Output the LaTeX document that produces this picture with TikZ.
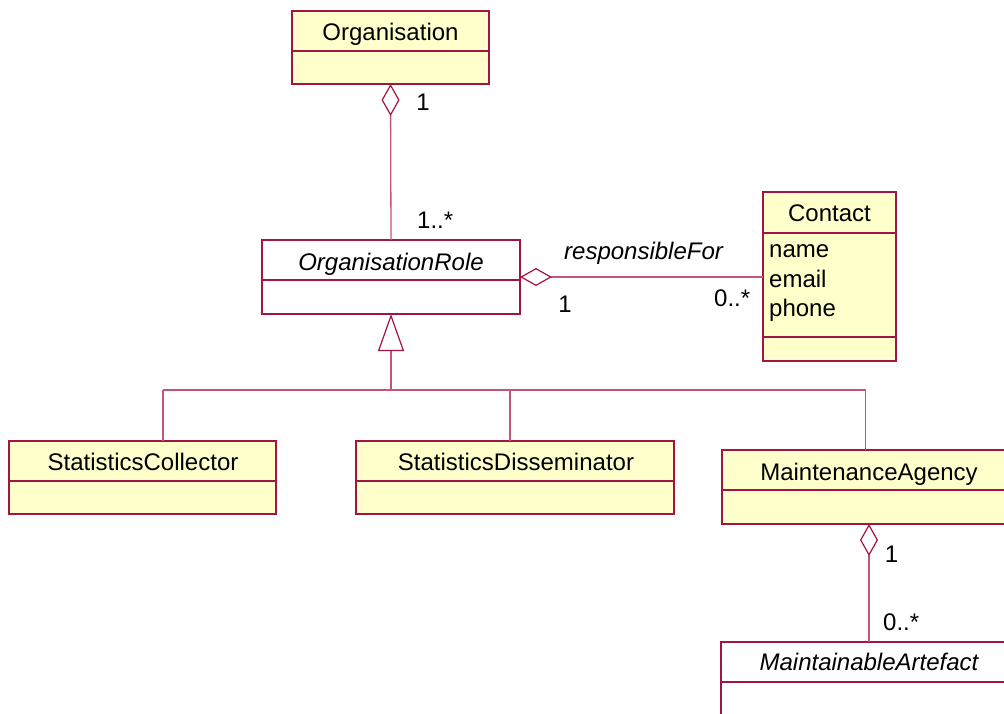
\documentclass[tikz,border=0pt]{standalone}
\usepackage{fontspec}
\setmainfont{Liberation Sans}
\usetikzlibrary{arrows.meta}
\definecolor{umlborder}{RGB}{163,20,66}
\definecolor{umlline}{RGB}{196,84,124}
\definecolor{umlfill}{RGB}{255,255,204}
\tikzset{
  aggtip/.tip={Diamond[open, length=32pt, width=18pt, color=umlborder, line width=1.2pt]},
  gentip/.tip={Triangle[open, length=37pt, width=26pt, color=umlborder, line width=1.2pt]}
}
\begin{document}
\begin{tikzpicture}[x=1pt,y=-1pt,
  classbox/.style={draw=umlborder, line width=1.5pt, fill=umlfill, rectangle,
    inner sep=0pt, outer sep=0pt, anchor=north west},
  abstractbox/.style={classbox, fill=white},
  divider/.style={draw=umlborder, line width=1.2pt},
  conn/.style={draw=umlline, line width=1.3pt},
  txt/.style={font=\fontsize{24}{28}\selectfont, inner sep=0pt, anchor=base},
  itxt/.style={txt, font=\fontsize{24}{28}\selectfont\itshape}
]
\useasboundingbox (0,0) rectangle (1004,713);
\clip (0,0) rectangle (1004,713);
\fill[white] (0,0) rectangle (1004,713);

% class boxes
\node[classbox, minimum width=197pt, minimum height=73pt] (org) at (292,11) {};
\node[abstractbox, minimum width=258pt, minimum height=74pt] (role) at (262,240) {};
\node[classbox, minimum width=133pt, minimum height=169pt] (contact) at (763,192) {};
\node[classbox, minimum width=267pt, minimum height=73pt] (coll) at (9,441) {};
\node[classbox, minimum width=318pt, minimum height=73pt] (diss) at (356,441) {};
\node[classbox, minimum width=294pt, minimum height=74pt] (maint) at (722,450) {};
\node[abstractbox, minimum width=296pt, minimum height=100pt] (art) at (721,642) {};

% compartment dividers
\foreach \b in {org, role, coll, diss, maint, art}
  \draw[divider] ([yshift=-40pt]\b.north west) -- ([yshift=-40pt]\b.north east);
\draw[divider] ([yshift=-41pt]contact.north west) -- ([yshift=-41pt]contact.north east);
\draw[divider] ([yshift=-145pt]contact.north west) -- ([yshift=-145pt]contact.north east);

% class names
\node[txt] (orgname) at (390.5,40) {Organisation};
\node[itxt] (rolename) at (391,270) {OrganisationRole};
\node[txt] (contactname) at (829.5,221) {Contact};
\node[txt] (collname) at (143,470) {StatisticsCollector};
\node[txt] (dissname) at (516,470) {StatisticsDisseminator};
\node[txt] (maintname) at (869,480) {MaintenanceAgency};
\node[itxt] (artname) at (869,670) {MaintainableArtefact};

% attributes of Contact
\node[txt, anchor=base west] (attrname) at (769,257) {name};
\node[txt, anchor=base west] (attremail) at (769,287) {email};
\node[txt, anchor=base west] (attrphone) at (769,316) {phone};

% associations
\draw[conn, aggtip-] (org.south) -- (role.north);
\draw[conn, aggtip-] (role.east) -- (role.east -| contact.west);
\draw[conn, aggtip-] (maint.south) -- (art.north);

% generalisation tree
\coordinate (genjoin) at (391,390);
\coordinate (barleft) at (163,390);
\coordinate (barmid) at (510,390);
\coordinate (barright) at (865.5,390);
\draw[conn, gentip-] (role.south) -- (genjoin);
\draw[conn] (barleft) -- (barright);
\draw[conn] (barleft) -- (barleft |- coll.north);
\draw[conn] (barmid) -- (barmid |- diss.north);
\draw[conn] (barright) -- (barright |- maint.north);

% role and multiplicity labels
\node[txt] (m1) at (423,110) {1};
\node[txt, anchor=base west] (m2) at (417,228) {1..*};
\node[itxt, anchor=base west] (rname) at (564,259) {responsibleFor};
\node[txt] (m3) at (565,312) {1};
\node[txt, anchor=base west] (m4) at (714,306) {0..*};
\node[txt] (m5) at (891.5,562) {1};
\node[txt, anchor=base west] (m6) at (883,630) {0..*};
\end{tikzpicture}
\end{document}
